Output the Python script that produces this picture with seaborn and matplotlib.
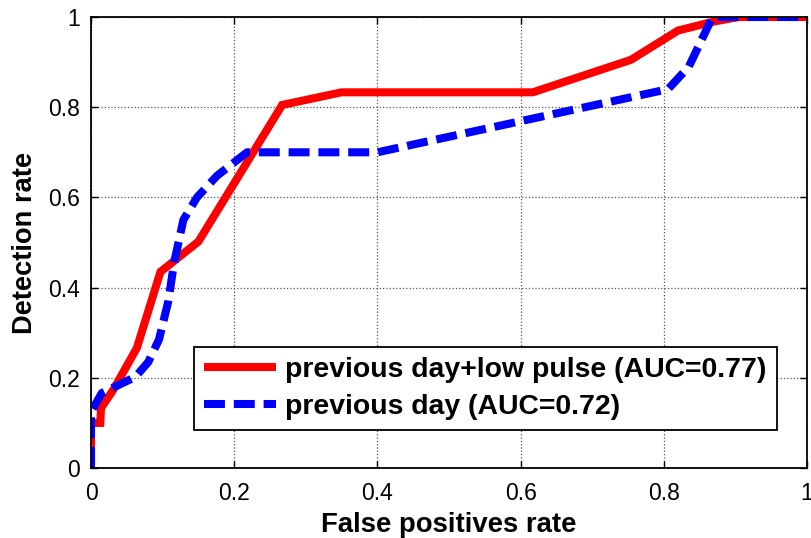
import numpy as np
import pandas as pd
import matplotlib
matplotlib.use("Agg")
import matplotlib.pyplot as plt
import seaborn as sns

# Series values
red_label = "previous day+low pulse (AUC=0.77)"
red_fpr = [0.0, 0.0, 0.013, 0.014, 0.031, 0.064, 0.097, 0.15, 0.267, 0.35, 0.617, 0.754, 0.82, 0.87, 0.905, 1.0]
red_tpr = [0.0, 0.1, 0.1, 0.133, 0.173, 0.266, 0.435, 0.502, 0.805, 0.833, 0.833, 0.905, 0.97, 0.99, 1.0, 1.0]

blue_label = "previous day (AUC=0.72)"
blue_fpr = [0.0, 0.0, 0.015, 0.062, 0.08, 0.095, 0.108, 0.116, 0.129, 0.148, 0.176, 0.218, 0.4, 0.806, 0.835, 0.85, 0.868, 1.0]
blue_tpr = [0.0, 0.124, 0.166, 0.202, 0.235, 0.285, 0.37, 0.455, 0.55, 0.6, 0.648, 0.7, 0.7, 0.84, 0.89, 0.94, 1.0, 1.0]

xticks = [0, 0.2, 0.4, 0.6, 0.8, 1]
yticks = [0, 0.2, 0.4, 0.6, 0.8, 1]
tick_labels = ["0", "0.2", "0.4", "0.6", "0.8", "1"]

df = pd.concat([
    pd.DataFrame({"fpr": red_fpr, "tpr": red_tpr, "model": red_label}),
    pd.DataFrame({"fpr": blue_fpr, "tpr": blue_tpr, "model": blue_label}),
], ignore_index=True)

sns.set_style("white")
plt.rcParams["font.family"] = ["Liberation Sans", "DejaVu Sans"]
plt.rcParams["text.color"] = "black"
plt.rcParams["axes.labelcolor"] = "black"

fig = plt.figure(figsize=(8.11, 5.38), dpi=100)
ax = fig.add_axes([91 / 811, 70 / 538, 716 / 811, 451 / 538])

sns.lineplot(data=df, x="fpr", y="tpr", hue="model", style="model",
             palette={red_label: "#ff0000", blue_label: "#0000ff"},
             dashes={red_label: "", blue_label: (2.6, 1.1)},
             sort=False, estimator=None, linewidth=5.8, ax=ax)

for ln in ax.get_lines():
    ln.set_dash_capstyle("butt")
    ln.set_solid_capstyle("butt")
    ln.set_solid_joinstyle("miter")

ax.set_xlim(0, 1)
ax.set_ylim(0, 1)
ax.set_xticks(xticks)
ax.set_yticks(yticks)
ax.set_xticklabels(tick_labels, fontsize=16.5)
ax.set_yticklabels(tick_labels, fontsize=16.5)
ax.tick_params(direction="in", length=5, width=1, top=True, right=True,
               bottom=True, left=True, pad=8, colors="black")
ax.tick_params(axis="x", pad=10)
ax.grid(True, linestyle=":", color="#555555", linewidth=0.9)
for s in ax.spines.values():
    s.set_visible(True)
    s.set_color("black")
    s.set_linewidth(1.3)

ax.set_xlabel("False positives rate", fontsize=19.8, fontweight="bold", labelpad=5, color="black")
ax.set_ylabel("Detection rate", fontsize=19.6, fontweight="bold", labelpad=7, color="black")

handles, labels = ax.get_legend_handles_labels()
leg = ax.legend(handles, labels, loc="lower left", bbox_to_anchor=(0.144, 0.084),
                prop={"weight": "bold", "size": 20.4}, frameon=True, fancybox=False,
                handlelength=2.55, handletextpad=0.32, borderpad=0.35, labelspacing=0.4,
                borderaxespad=0)
leg.get_frame().set_edgecolor("black")
leg.get_frame().set_linewidth(1.3)
leg.get_frame().set_alpha(1)
for t in leg.get_texts():
    t.set_color("black")
for h in leg.get_lines():
    h.set_linewidth(5.8)

fig.savefig("out.png", dpi=100)
